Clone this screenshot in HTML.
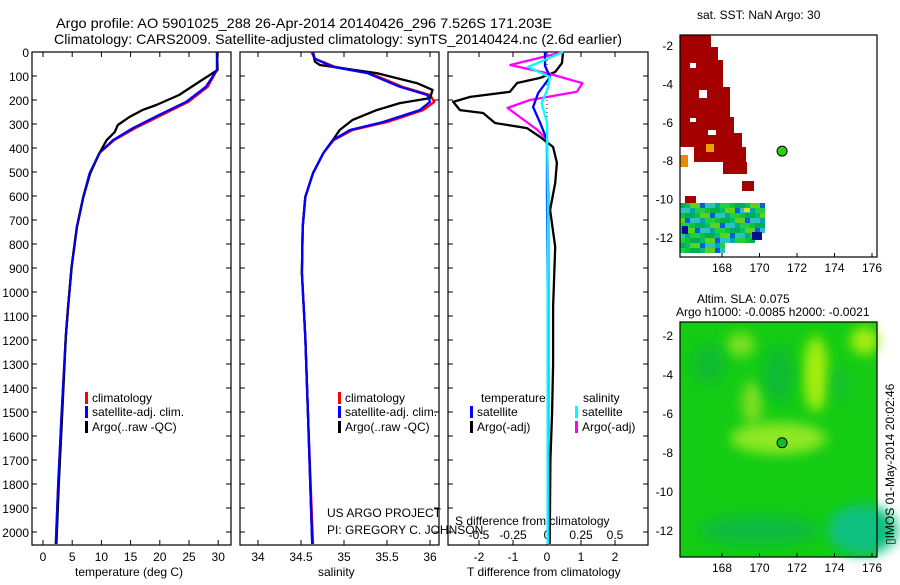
<!DOCTYPE html>
<html><head><meta charset="utf-8"><style>
body{margin:0;background:#fff;}
svg text{font-family:"Liberation Sans",sans-serif;fill:#000;}
</style></head><body>
<svg id="c" width="900" height="580" viewBox="0 0 900 580" xmlns="http://www.w3.org/2000/svg">
<text x="56" y="28" font-size="14" textLength="496" lengthAdjust="spacingAndGlyphs">Argo profile: AO 5901025_288 26-Apr-2014 20140426_296 7.526S 171.203E</text>
<text x="54" y="44" font-size="14" textLength="568" lengthAdjust="spacingAndGlyphs">Climatology: CARS2009. Satellite-adjusted climatology: synTS_20140424.nc (2.6d earlier)</text>
<g id="maps"></g>
<g id="panels"></g>
<text x="75" y="576" font-size="12">temperature (deg C)</text>
<text x="318" y="576" font-size="12">salinity</text>
<text x="467" y="576" font-size="12">T difference from climatology</text>
<text x="455" y="525" font-size="12">S difference from climatology</text>
<text x="327" y="517" font-size="12">US ARGO PROJECT</text>
<text x="327" y="534" font-size="12">PI: GREGORY C. JOHNSON</text>
<text x="697" y="19" font-size="12">sat. SST: NaN Argo: 30</text>
<text x="697" y="303" font-size="12">Altim. SLA: 0.075</text>
<text x="676" y="316" font-size="12">Argo h1000: -0.0085 h2000: -0.0021</text>
<text transform="translate(894,545) rotate(-90)" font-size="12">▯IMOS 01-May-2014 20:02:46</text>
</svg>
<script>
// ---------- data ----------
const depthTicks=[0,100,200,300,400,500,600,700,800,900,1000,1100,1200,1300,1400,1500,1600,1700,1800,1900,2000];
const tempTicks=[0,5,10,15,20,25,30];
const salTicks=[34,34.5,35,35.5,36];
const tdiffTicks=[-2,-1,0,1,2];
const sdiffTicks=[-0.5,-0.25,0,0.25,0.5];
const sdiffTickLabels=["-0.5","-0.25","0","0.25","0.5"];

const tClimDepth=[0,75,145,208,262,317,367,420,505,604,729,896,1062,1187,1500,1800,2050];
const tClimRed=[29.8,29.8,28.2,24.9,20.4,15.8,12.2,9.7,8.0,6.9,5.8,4.9,4.3,3.9,3.2,2.6,2.2];
const tClimBlue=[29.8,29.8,27.9,24.5,19.9,15.4,12.0,9.7,8.0,6.9,5.8,4.9,4.3,3.9,3.2,2.6,2.2];
const tArgoDepth=[0,75,125,179,221,242,271,304,333,367,420,505,604,729,896,1062,1187,1500,1800,2050];
const tArgo=[29.8,29.9,26.7,23.3,19.4,17.0,14.8,12.8,12.3,10.9,9.7,8.1,6.9,5.8,4.9,4.3,3.9,3.3,2.7,2.3];

const sClimDepth=[0,28,62,88,145,179,208,242,292,325,367,421,505,604,729,921,1187,1500,2050];
const sClimRed=[34.62,34.66,34.9,35.3,35.68,36.0,36.05,35.92,35.5,35.1,34.88,34.76,34.64,34.55,34.52,34.51,34.55,34.58,34.64];
const sClimBlue=[34.64,34.66,34.87,35.27,35.65,35.97,36.0,35.88,35.45,35.07,34.87,34.76,34.64,34.55,34.52,34.51,34.55,34.58,34.63];
const sArgoDepth=[0,40,54,88,130,158,192,213,242,283,325,367,421,505,604,729,921,1187,1500,2050];
const sArgo=[34.64,34.66,34.72,35.38,35.85,36.03,36.0,35.65,35.38,35.1,34.95,34.87,34.76,34.64,34.55,34.52,34.51,34.55,34.58,34.63];

const tdDepth=[0,46,83,108,129,166,187,208,242,254,296,317,354,396,462,546,658,812,1062,1300,1500,1700,2050];
const tdArgo=[0.47,0.44,0.24,-0.2,-0.88,-1.09,-2.26,-2.76,-2.56,-1.88,-1.53,-0.59,-0.2,0.18,0.29,0.24,0.09,0.24,0.18,0.18,0.15,0.1,0.08];
const tdSatDepth=[0,58,104,171,229,296,367,600,1000,1500,2050];
const tdSat=[-0.06,-0.06,0.09,-0.26,-0.41,-0.2,0,0,0.02,0.02,0.02];
const sdArgoDepth=[0,54,88,130,166,200,233,271,325,367,600,1000,1500,2050];
const sdArgo=[0.12,-0.27,0,0.26,0.22,-0.125,-0.29,-0.2,-0.07,0,0.01,0.01,0.01,0.01];
const sdSatDepth=[0,62,104,146,213,296,600,1000,1500,2050];
const sdSat=[0.12,-0.14,0.02,0.01,-0.04,0,0.005,0.005,0.005,0.005];

// ---------- scales ----------
const Y0=52, Y1=545;
const yD=d=>52+d*0.24;
const xT=t=>43+t*5.84;
const xS=s=>258+(s-34)*86;
const xTD=v=>547+v*34;
const xSD=v=>547+v*136;
const NS="http://www.w3.org/2000/svg";
const svg=document.getElementById('c');
const P=document.getElementById('panels');
function mk(tag,attrs,parent){const e=document.createElementNS(NS,tag);for(const k in attrs)e.setAttribute(k,attrs[k]);(parent||P).appendChild(e);return e;}
function clip(d){return Math.min(d,2050);}
function line(depths,vals,xf,color,name,w,dash){
  const pts=depths.map((d,i)=>xf(vals[i]).toFixed(1)+','+yD(clip(d)).toFixed(1)).join(' ');
  const e=mk('polyline',{points:pts,fill:'none',stroke:color,'stroke-width':w||2.3,'stroke-linejoin':'round'});
  if(dash)e.setAttribute('stroke-dasharray',dash);
  
  
}
function txt(x,y,s,anchor,size,name){const e=mk('text',{x:x,y:y,'font-size':size||12,'text-anchor':anchor||'start'});e.textContent=s;
  
  return e;}

const panels=[{x0:32,x1:231,n:'temperature-panel'},{x0:240,x1:439,n:'salinity-panel'},{x0:448,x1:648,n:'difference-panel'}];
panels.forEach(p=>{
  const r=mk('rect',{x:p.x0,y:Y0,width:p.x1-p.x0,height:Y1-Y0,fill:'#fff',stroke:'#000','stroke-width':1.2});
  
  
  depthTicks.forEach(d=>{
    const t1=mk('line',{x1:p.x0,x2:p.x0+5,y1:yD(d),y2:yD(d),stroke:'#000'});
    
    
    const t2=mk('line',{x1:p.x1-5,x2:p.x1,y1:yD(d),y2:yD(d),stroke:'#000'});
    
    
  });
});
depthTicks.forEach(d=>txt(29,yD(d)+5,String(d),'end',12,'depth-tick-label'));
function xticks(ticks,labels,xf,p,name){
  ticks.forEach((t,i)=>{
    const x=xf(t);
    const a=mk('line',{x1:x,x2:x,y1:Y0,y2:Y0+5,stroke:'#000'});
    
    
    const b=mk('line',{x1:x,x2:x,y1:Y1-5,y2:Y1,stroke:'#000'});
    
    
    txt(x,561,labels[i],'middle',12,name+'-tick-label');
  });
}
xticks(tempTicks,tempTicks.map(String),xT,panels[0],'temperature');
xticks(salTicks,salTicks.map(String),xS,panels[1],'salinity');
xticks(tdiffTicks,tdiffTicks.map(String),xTD,panels[2],'t-difference');
sdiffTicks.forEach((t,i)=>txt(xSD(t),539,sdiffTickLabels[i],'middle',12,'s-difference-tick-label'));

// series
line(tClimDepth,tClimRed,xT,'#f00','temperature-climatology-line');
line(tClimDepth,tClimBlue,xT,'#00f','temperature-satellite-clim-line');
line(tArgoDepth,tArgo,xT,'#000','temperature-argo-line');
line(tClimDepth,tClimBlue,xT,'#00f','temperature-satellite-clim-line-top',1.6);
line(sClimDepth,sClimRed,xS,'#f00','salinity-climatology-line');
line(sArgoDepth,sArgo,xS,'#000','salinity-argo-line');
line(sClimDepth,sClimBlue,xS,'#00f','salinity-satellite-clim-line');
const zl=mk('line',{x1:xTD(0),x2:xTD(0),y1:Y0,y2:yD(400),stroke:'#000','stroke-dasharray':'1,3'});


line(tdDepth,tdArgo,xTD,'#000','t-diff-argo-line');
line(sdArgoDepth,sdArgo,xSD,'#f0f','s-diff-argo-line');
line(tdSatDepth,tdSat,xTD,'#00f','t-diff-satellite-line');
line(sdSatDepth,sdSat,xSD,'#0ff','s-diff-satellite-line');

// legends
function leg(x,y,color,label,name){
  const r=mk('rect',{x:x,y:y-10,width:3,height:12,fill:color});
  
  
  txt(x+7,y,label,'start',12,name+'-label');
}
[[85,'temperature-legend'],[338,'salinity-legend']].forEach(([x,n])=>{
  leg(x,402,'#f00','climatology',n+'-climatology');
  leg(x,416,'#00f','satellite-adj. clim.',n+'-satellite');
  leg(x,431,'#000','Argo(..raw -QC)',n+'-argo');
});
txt(481,402,'temperature','start',12,'diff-legend-temperature-header');
txt(583,402,'salinity','start',12,'diff-legend-salinity-header');
leg(470,416,'#00f','satellite','diff-legend-t-satellite');
leg(470,431,'#000','Argo(-adj)','diff-legend-t-argo');
leg(575,416,'#0ff','satellite','diff-legend-s-satellite');
leg(575,431,'#f0f','Argo(-adj)','diff-legend-s-argo');

// ---------- maps ----------
const M=document.getElementById('maps');
const lonTicks=[168,170,172,174,176];
const latTicks=[-2,-4,-6,-8,-10,-12];
const mapTop={x0:680,x1:877,y0:35,y1:257,lx:lon=>722+(lon-168)*18.75,ly:lat=>45+(-2-lat)*19.2};
const mapBot={x0:680,x1:877,y0:322,y1:557,lx:lon=>722+(lon-168)*18.75,ly:lat=>335+(-2-lat)*19.5};
function r(x,y,w,h,f,name){const e=mk('rect',{x:x,y:y,width:w,height:h,fill:f},M);
  
  return e;}
const red='#a50000';
r(680,35,31,12,red,'sst-warm-region');r(680,47,38,13,red,'sst-warm-region');r(680,60,43,27,red,'sst-warm-region');
r(680,87,50,30,red,'sst-warm-region');r(680,117,54,16,red,'sst-warm-region');r(680,133,62,14,red,'sst-warm-region');
r(694,147,52,15,red,'sst-warm-region');r(723,162,24,12,red,'sst-warm-region');r(742,181,12,10,red,'sst-warm-region');
r(685,196,11,7,red,'sst-warm-region');r(680,155,8,12,'#e88a00','sst-orange-cell');r(706,144,8,8,'#e8a000','sst-orange-cell');
r(690,63,6,5,'#fff','sst-gap');r(699,90,8,8,'#fff','sst-gap');r(708,130,8,5,'#fff','sst-gap');r(690,118,6,4,'#fff','sst-gap');
const cols=['#00b050','#10c040','#20d040','#00a8a0','#30c0c0','#0060e0','#60d020','#00c070'];
let k=0;
for(let yy=203;yy<250;yy+=5){for(let xx=680;xx<765;xx+=5){
  if(yy>228&&xx>750)continue; if(yy>240&&xx>722)continue;
  const c=cols[(k*7+Math.floor(k/3))%cols.length];k++;
  r(xx,yy,5,5,c,'sst-cell');}}
r(752,232,10,8,'#001090','sst-cold-cell');r(682,226,6,8,'#001090','sst-cold-cell');r(744,208,6,4,'#e0e020','sst-warm-cell');
r(680,322,197,235,'#14cc14','sla-background');
const defs=mk('defs',{},M);
const f=mk('filter',{id:'bl',x:'-50%',y:'-50%',width:'200%',height:'200%'},defs);mk('feGaussianBlur',{stdDeviation:6},f);
function el(lon,lat,rx,ry,c,name){const e=mk('ellipse',{cx:mapBot.lx(lon),cy:mapBot.ly(lat),rx:rx,ry:ry,fill:c,filter:'url(#bl)'},M);
  
  }
el(171,-7.3,48,16,'#8ee820','sla-high-band');el(169.6,-5.5,10,22,'#80e020','sla-high-band');el(173,-4,12,38,'#a8ee10','sla-high-band');el(175.6,-2.3,14,14,'#a8ee10','sla-high-band');
el(169,-2.5,14,12,'#80e020','sla-high-band');
el(171,-4,16,28,'#10bb30','sla-low-region');el(167.3,-3.5,16,20,'#10bb30','sla-low-region');el(174.3,-4.5,9,16,'#18c030','sla-low-region');
el(175.5,-12,35,25,'#10c080','sla-low-region');el(170,-12,60,15,'#10bb40','sla-low-region');
const cl=mk('rect',{x:680,y:322,width:197,height:235,fill:'none',stroke:'#000','stroke-width':1.2},M);


const cl2=mk('rect',{x:680,y:35,width:197,height:222,fill:'none',stroke:'#000','stroke-width':1.2},M);


[[mapTop,'sst-map'],[mapBot,'sla-map']].forEach(([m,n])=>{
  lonTicks.forEach(l=>{const x=m.lx(l);
    const a=mk('line',{x1:x,x2:x,y1:m.y1-4,y2:m.y1,stroke:'#000'},M);
    
    
    const t=mk('text',{x:x,y:m.y1+15,'font-size':12,'text-anchor':'middle'},M);t.textContent=l;
    
    });
  latTicks.forEach(l=>{const y=m.ly(l);
    const t=mk('text',{x:673,y:y+5,'font-size':12,'text-anchor':'end'},M);t.textContent=l;
    
    });
  const c=mk('circle',{cx:m.lx(171.203),cy:m.ly(-7.526),r:5,fill:n==='sst-map'?'#30d010':'#10c020',stroke:'#000'},M);
  
  
});
</script>
</body></html>
